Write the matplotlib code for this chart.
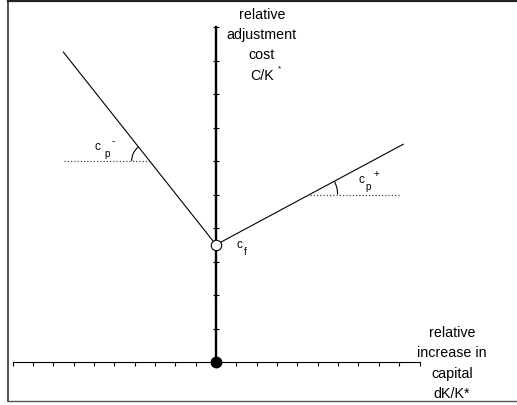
import matplotlib
matplotlib.use("Agg")
import matplotlib.pyplot as plt
from matplotlib.patches import Arc
from matplotlib.lines import Line2D
import numpy as np

plt.rcParams['font.family'] = ['Liberation Sans', 'DejaVu Sans']

# axis ticks
x_ticks = list(range(-10, 11))
y_ticks = list(range(0, 11))

# cost function: fixed cost and the two kinked branches
c_f = 3.5
left_end = (-7.5, 9.25)
right_end = (9.2, 6.5)
# levels of the dotted reference lines used to mark the slopes
left_ref_y = 6.0
right_ref_y = 5.0
left_ref_start = -7.45
right_ref_end = 9.05

slope_left = (left_end[1] - c_f) / left_end[0]
slope_right = (right_end[1] - c_f) / right_end[0]
xl_cross = (left_ref_y - c_f) / slope_left
xr_cross = (right_ref_y - c_f) / slope_right

fig = plt.figure(figsize=(5.17, 4.05), dpi=100)
ax = fig.add_axes([0, 0, 1, 1])
ax.set_xlim(-216 / 20.35, (517 - 216) / 20.35)
ax.set_ylim(-43 / 33.5, 362 / 33.5)

for s in ['top', 'right']:
    ax.spines[s].set_visible(False)
ax.spines['left'].set_position(('data', 0))
ax.spines['bottom'].set_position(('data', 0))
ax.spines['left'].set_bounds(y_ticks[0], y_ticks[-1])
ax.spines['bottom'].set_bounds(x_ticks[0], x_ticks[-1])
ax.spines['left'].set_linewidth(1.7)
ax.spines['bottom'].set_linewidth(0.8)
ax.set_xticks(x_ticks)
ax.set_yticks(y_ticks)
ax.tick_params(axis='x', direction='out', length=3, width=0.8, labelbottom=False)
ax.tick_params(axis='y', direction='inout', length=4.5, width=0.8, labelleft=False)

# branches
ax.plot([left_end[0], 0], [left_end[1], c_f], color='black', lw=0.8)
ax.plot([0, right_end[0]], [c_f, right_end[1]], color='black', lw=0.8)

# dotted references
ax.plot([left_ref_start, xl_cross], [left_ref_y, left_ref_y], color='#444444',
        lw=0.9, ls=(0, (1, 1.6)))
ax.plot([xr_cross, right_ref_end], [right_ref_y, right_ref_y], color='#444444',
        lw=0.9, ls=(0, (1, 1.6)))

# angle arcs
ang_left = np.degrees(np.arctan2(left_end[1] - c_f, left_end[0]))
ang_right = np.degrees(np.arctan2(right_end[1] - c_f, right_end[0]))
ax.add_patch(Arc((xl_cross, left_ref_y), 2 * 18 / 20.35, 2 * 18 / 33.5,
                 theta1=ang_left, theta2=180, color='black', lw=0.8))
ax.add_patch(Arc((xr_cross, right_ref_y), 2 * 28 / 20.35, 2 * 28 / 33.5,
                 theta1=0, theta2=ang_right, color='black', lw=0.8))

# markers
ax.plot([0], [0], 'o', color='black', ms=7.5, zorder=5, clip_on=False)
ax.plot([0], [c_f], 'o', mfc='white', mec='black', mew=0.8, ms=7.5, zorder=5)

# labels
fs = 10.3
for txt, y in zip(['relative', 'adjustment', 'cost'], [10.36, 9.76, 9.16]):
    ax.text(2.25, y, txt, ha='center', va='center', fontsize=fs)
ax.text(2.26, 8.54, 'C/K', ha='center', va='center', fontsize=fs)
ax.text(3.1, 8.74, '*', ha='center', va='center', fontsize=6)

for txt, y in zip(['relative', 'increase in', 'capital', 'dK/K*'],
                  [0.87, 0.27, -0.36, -0.96]):
    ax.text(11.6, y, txt, ha='center', va='center', fontsize=fs)

ax.text(-5.85, 6.42, 'c', ha='center', va='center', fontsize=8.5)
ax.text(-5.36, 6.2, 'p', ha='center', va='center', fontsize=7)
ax.text(-5.06, 6.6, '-', ha='center', va='center', fontsize=7)

ax.text(7.17, 5.44, 'c', ha='center', va='center', fontsize=8.5)
ax.text(7.48, 5.23, 'p', ha='center', va='center', fontsize=7)
ax.text(7.87, 5.62, '+', ha='center', va='center', fontsize=7)

ax.text(1.13, 3.48, 'c', ha='center', va='center', fontsize=8.5)
ax.text(1.43, 3.28, 'f', ha='center', va='center', fontsize=7)

# frame around the picture (left, top, bottom only)
fig.add_artist(Line2D([8 / 517, 8 / 517], [4 / 405, 404 / 405], color='#333333', lw=1.2))
fig.add_artist(Line2D([8 / 517, 1], [404 / 405, 404 / 405], color='#222222', lw=1.6))
fig.add_artist(Line2D([8 / 517, 1], [4 / 405, 4 / 405], color='#555555', lw=1.0))

fig.savefig('out.png', dpi=100)
